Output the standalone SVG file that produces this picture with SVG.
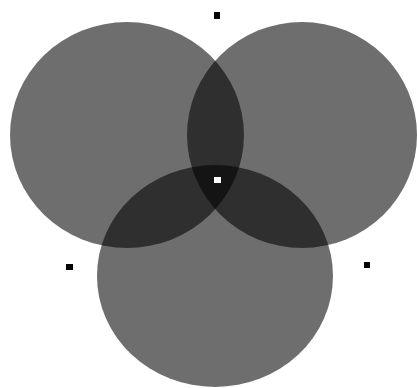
<svg xmlns="http://www.w3.org/2000/svg" width="417" height="388" viewBox="0 0 417 388">
  <style>
    .c { fill: #000; fill-opacity: 0.57; }
    .pt { fill: #000; }
    .ctr { fill: #fff; }
  </style>
  <rect width="417" height="388" fill="#fff"/>
  <g id="circle-left"><ellipse class="c" cx="127" cy="135" rx="117" ry="113"/></g>
  <g id="circle-right"><ellipse class="c" cx="302" cy="135" rx="115" ry="113"/></g>
  <g id="circle-bottom"><ellipse class="c" cx="215" cy="276" rx="118" ry="111"/></g>
  <g id="point-top"><rect class="pt" x="214" y="12" width="6" height="7"/></g>
  <g id="point-left"><rect class="pt" x="66" y="264" width="7" height="6"/></g>
  <g id="point-right"><rect class="pt" x="364" y="262" width="6" height="6"/></g>
  <g id="point-center"><rect class="ctr" x="214" y="177" width="7" height="6"/></g>
</svg>
